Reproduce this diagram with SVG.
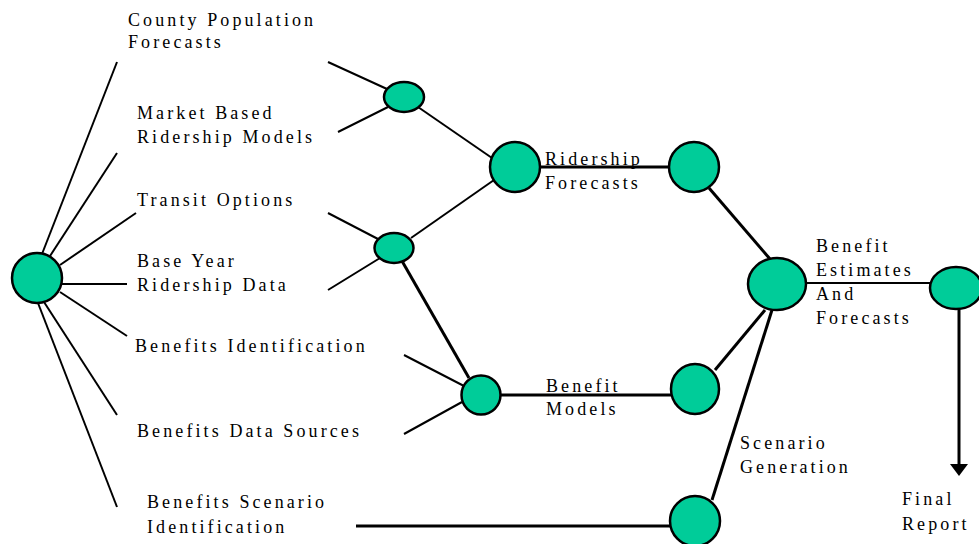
<svg xmlns="http://www.w3.org/2000/svg" width="979" height="544" viewBox="0 0 979 544">
<style>
.n{fill:#00CC99;stroke:#000;stroke-width:2.5}
.t{font-family:"Liberation Serif","Times New Roman",serif;font-size:18px;letter-spacing:3.1px;fill:#000}
.l{stroke:#000;stroke-width:2;fill:none}
.k{stroke:#000;stroke-width:3;fill:none}
</style>
<defs>
<marker id="ah" markerWidth="6" markerHeight="4" refX="0" refY="2" orient="auto" markerUnits="strokeWidth">
<path d="M0,0 L6,2 L0,4 Z" fill="#000"/>
</marker>
</defs>
<rect width="979" height="544" fill="#fff"/>
<g id="connectors">
<line class="l" x1="42" y1="254" x2="117" y2="62"/>
<line class="l" x1="50" y1="256" x2="117" y2="153"/>
<line class="l" x1="60" y1="265" x2="136" y2="213"/>
<line class="l" x1="62" y1="284" x2="127" y2="284"/>
<line class="l" x1="60" y1="292" x2="127" y2="336"/>
<line class="l" x1="44" y1="302" x2="117" y2="415"/>
<line class="l" x1="38" y1="303" x2="117" y2="507"/>
<line class="l" x1="328" y1="62" x2="387" y2="89"/>
<line class="l" x1="338" y1="132" x2="388" y2="107"/>
<line class="l" x1="418" y1="107" x2="492" y2="158"/>
<line class="l" x1="328" y1="213" x2="378" y2="239"/>
<line class="l" x1="328" y1="290" x2="380" y2="258"/>
<line class="l" x1="411" y1="238" x2="494" y2="180"/>
<line class="k" x1="402" y1="261" x2="469" y2="378"/>
<line class="l" x1="404" y1="355" x2="464" y2="386"/>
<line class="l" x1="404" y1="434" x2="462" y2="402"/>
<line class="k" x1="540" y1="167" x2="669" y2="167"/>
<line class="k" x1="500" y1="395" x2="671" y2="395"/>
<line class="k" x1="709" y1="188" x2="770" y2="259"/>
<line class="k" x1="715" y1="370" x2="765" y2="310"/>
<line class="k" x1="712" y1="500" x2="772" y2="310"/>
<line class="l" x1="806" y1="283" x2="931" y2="283"/>
<line class="k" x1="356" y1="526" x2="671" y2="526"/>
<line class="k" x1="959" y1="309" x2="959" y2="464"/>
<polygon points="950,464 968,464 959,476" fill="#000"/>
</g>
<g id="node-root"><circle class="n" cx="37" cy="278" r="25"/></g>
<g id="node-a"><ellipse class="n" cx="404" cy="97" rx="20" ry="15"/></g>
<g id="node-b"><ellipse class="n" cx="394" cy="248" rx="19.5" ry="15"/></g>
<g id="node-ridership"><circle class="n" cx="515" cy="167" r="25"/></g>
<g id="node-ridership-out"><circle class="n" cx="694" cy="167" r="25"/></g>
<g id="node-benefit"><circle class="n" cx="481" cy="395" r="19.5"/></g>
<g id="node-benefit-out"><ellipse class="n" cx="695" cy="389" rx="24" ry="25"/></g>
<g id="node-scenario"><circle class="n" cx="695" cy="521" r="25"/></g>
<g id="node-estimates"><ellipse class="n" cx="777" cy="284" rx="29" ry="26"/></g>
<g id="node-final"><ellipse class="n" cx="956" cy="288" rx="26" ry="21"/></g>
<g id="labels">
<text class="t" x="128" y="26">County Population</text>
<text class="t" x="128" y="48">Forecasts</text>
<text class="t" x="137" y="119">Market Based</text>
<text class="t" x="137" y="143">Ridership Models</text>
<text class="t" x="137" y="206">Transit Options</text>
<text class="t" x="137" y="267">Base Year</text>
<text class="t" x="137" y="291">Ridership Data</text>
<text class="t" x="135" y="352">Benefits Identification</text>
<text class="t" x="137" y="437">Benefits Data Sources</text>
<text class="t" x="147" y="508">Benefits Scenario</text>
<text class="t" x="147" y="533">Identification</text>
<text class="t" x="545" y="165">Ridership</text>
<text class="t" x="545" y="189">Forecasts</text>
<text class="t" x="546" y="392">Benefit</text>
<text class="t" x="546" y="415">Models</text>
<text class="t" x="816" y="252">Benefit</text>
<text class="t" x="816" y="276">Estimates</text>
<text class="t" x="816" y="300">And</text>
<text class="t" x="816" y="324">Forecasts</text>
<text class="t" x="740" y="449">Scenario</text>
<text class="t" x="740" y="473">Generation</text>
<text class="t" x="902" y="505">Final</text>
<text class="t" x="902" y="530">Report</text>
</g>
</svg>
